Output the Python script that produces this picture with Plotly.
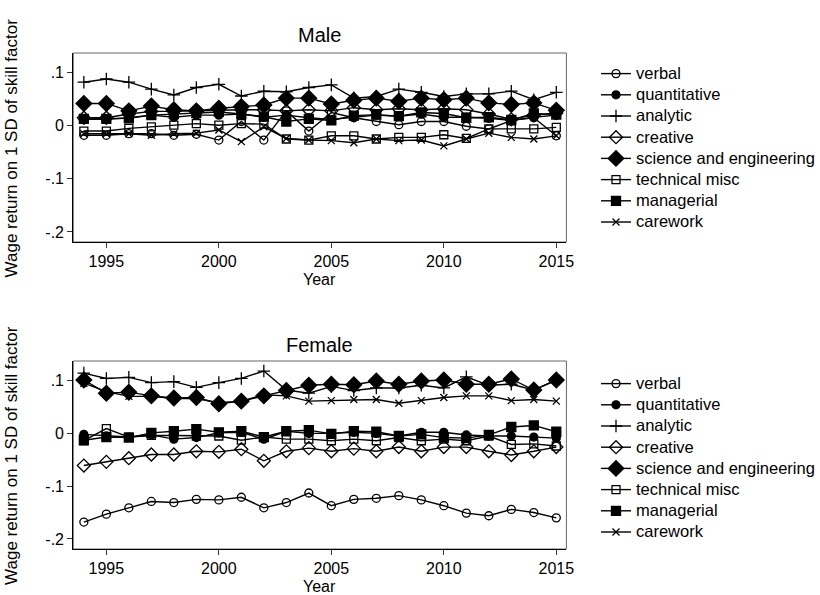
import plotly.graph_objects as go

years = list(range(1994, 2016))
series_names = ["verbal", "quantitative", "analytic", "creative",
                "science and engineering", "technical misc", "managerial", "carework"]

male_verbal = [-0.018,-0.018,-0.015,-0.015,-0.018,-0.016,-0.027,0.008,-0.027,0.028,-0.010,0.025,0.015,0.008,0.002,0.008,0.008,-0.001,-0.006,0.010,0.015,-0.019]
male_quantitative = [0.012,0.012,0.015,0.020,0.016,0.020,0.020,0.022,0.016,0.020,0.015,0.012,0.016,0.020,0.018,0.022,0.016,0.016,0.014,0.010,0.016,0.020]
male_analytic = [0.082,0.088,0.082,0.069,0.058,0.072,0.078,0.056,0.065,0.064,0.072,0.077,0.052,0.055,0.069,0.063,0.055,0.060,0.060,0.065,0.049,0.063]
male_creative = [0.015,0.015,0.022,0.027,0.027,0.028,0.030,0.030,0.030,0.028,0.030,0.028,0.034,0.030,0.032,0.030,0.032,0.030,0.022,0.012,0.020,0.024]
male_science = [0.042,0.042,0.028,0.037,0.030,0.028,0.033,0.036,0.039,0.052,0.052,0.041,0.048,0.052,0.046,0.052,0.049,0.052,0.043,0.040,0.043,0.029]
male_technical = [-0.010,-0.010,-0.005,-0.002,0.001,0.004,0.001,0.004,0.003,-0.025,-0.027,-0.019,-0.019,-0.025,-0.022,-0.022,-0.017,-0.024,-0.006,-0.006,-0.006,-0.003]
male_managerial = [0.013,0.013,0.014,0.020,0.022,0.024,0.026,0.022,0.017,0.008,0.013,0.010,0.019,0.021,0.018,0.025,0.023,0.015,0.016,0.011,0.023,0.021]
male_carework = [-0.015,-0.015,-0.015,-0.018,-0.015,-0.014,-0.008,-0.030,-0.002,-0.024,-0.027,-0.028,-0.032,-0.025,-0.028,-0.027,-0.038,-0.025,-0.014,-0.022,-0.025,-0.019]

female_verbal = [-0.168,-0.153,-0.141,-0.129,-0.131,-0.125,-0.126,-0.121,-0.141,-0.131,-0.113,-0.137,-0.125,-0.123,-0.118,-0.126,-0.137,-0.151,-0.156,-0.144,-0.150,-0.160]
female_quantitative = [-0.002,-0.005,-0.007,-0.003,-0.011,-0.008,0.001,0.002,-0.011,0.004,0.000,0.000,0.002,0.000,-0.005,0.002,0.002,-0.003,-0.005,-0.005,-0.007,-0.009]
female_analytic = [0.114,0.104,0.106,0.096,0.098,0.087,0.096,0.104,0.118,0.082,0.076,0.089,0.081,0.086,0.086,0.091,0.086,0.107,0.091,0.093,0.082,0.101]
female_creative = [-0.061,-0.054,-0.047,-0.040,-0.040,-0.034,-0.035,-0.030,-0.052,-0.034,-0.028,-0.034,-0.029,-0.034,-0.026,-0.034,-0.026,-0.026,-0.034,-0.041,-0.034,-0.026]
female_science = [0.101,0.076,0.078,0.071,0.067,0.068,0.056,0.061,0.071,0.081,0.091,0.093,0.092,0.099,0.093,0.099,0.101,0.093,0.093,0.103,0.082,0.101]
female_technical = [-0.014,0.009,-0.007,-0.004,-0.004,-0.005,-0.005,-0.013,-0.007,-0.011,-0.011,-0.014,-0.011,-0.014,-0.008,-0.014,-0.011,-0.014,-0.005,-0.021,-0.020,-0.024]
female_managerial = [-0.013,-0.007,-0.008,0.001,0.004,0.008,0.002,0.004,-0.007,0.004,0.006,-0.001,0.004,0.003,-0.005,-0.002,-0.008,-0.009,-0.003,0.012,0.015,0.003]
female_carework = [0.095,0.079,0.070,0.070,0.066,0.066,0.058,0.061,0.073,0.071,0.061,0.062,0.064,0.064,0.057,0.062,0.068,0.071,0.071,0.062,0.064,0.061]

x_ticks = [1995, 2000, 2005, 2010, 2015]
y_tickvals = [0.1, 0, -0.1, -0.2]
y_ticktext = [".1", "0", "-.1", "-.2"]

male = [male_verbal, male_quantitative, male_analytic, male_creative,
        male_science, male_technical, male_managerial, male_carework]
female = [female_verbal, female_quantitative, female_analytic, female_creative,
          female_science, female_technical, female_managerial, female_carework]

symbols = ["circle-open", "circle", "cross-thin", "diamond-open",
           "diamond", "square-open", "square", "x-thin"]
sizes = [8, 8, 9, 10, 12, 8, 9, 7]

FONT = "Liberation Sans, Arial, Helvetica, sans-serif"
fig = go.Figure()

for data, xa, ya, lg in [(male, "x", "y", "legend"), (female, "x2", "y2", "legend2")]:
    for name, vals, sym, sz in zip(series_names, data, symbols, sizes):
        fig.add_trace(go.Scatter(
            x=years, y=vals, name='<span style="font-size:16.5px">' + name + '</span>',
            mode="lines+markers",
            xaxis=xa, yaxis=ya, legend=lg,
            line=dict(color="black", width=1.4),
            marker=dict(symbol=sym, size=sz, color="black",
                        line=dict(color="black", width=1.3)),
        ))

xdom = [74/820, 572/820]
top_dom = [1 - 242/595, 1 - 53/595]
bot_dom = [1 - 549/595, 1 - 361/595]

axis_common = dict(showline=True, linecolor="black", linewidth=1.2,
                   ticks="outside", ticklen=5, tickcolor="#333", tickwidth=1,
                   showgrid=False, zeroline=False,
                   tickfont=dict(family=FONT, size=16, color="black"))

xr = [1993.53, 2015.45]
yr = [-0.219, 0.137]

xmid = (xdom[0] + xdom[1]) / 2
legend_common = dict(xanchor="left", yanchor="top", font=dict(family=FONT, size=14),
                     bgcolor="rgba(0,0,0,0)", tracegroupgap=0, itemwidth=30)

fig.update_layout(
    width=820, height=595,
    margin=dict(l=0, r=0, t=0, b=0),
    paper_bgcolor="white", plot_bgcolor="white",
    font=dict(family=FONT, color="black"),
    xaxis=dict(domain=xdom, anchor="y", range=xr, tickvals=x_ticks, **axis_common),
    yaxis=dict(domain=top_dom, anchor="x", range=yr, tickvals=y_tickvals,
               ticktext=y_ticktext, tickangle=0, **axis_common),
    xaxis2=dict(domain=xdom, anchor="y2", range=xr, tickvals=x_ticks, **axis_common),
    yaxis2=dict(domain=bot_dom, anchor="x2", range=yr, tickvals=y_tickvals,
                ticktext=y_ticktext, tickangle=0, **axis_common),
    legend=dict(x=602/820, y=1 - 58/595, **legend_common),
    legend2=dict(x=602/820, y=1 - 368/595, **legend_common),
    annotations=[
        dict(text="Male", x=xmid, y=1 - 35/595, xref="paper", yref="paper",
             showarrow=False, font=dict(family=FONT, size=20), xanchor="center", yanchor="middle"),
        dict(text="Female", x=xmid, y=1 - 345/595, xref="paper", yref="paper",
             showarrow=False, font=dict(family=FONT, size=20), xanchor="center", yanchor="middle"),
        dict(text="Year", x=xmid, y=1 - 279/595, xref="paper", yref="paper",
             showarrow=False, font=dict(family=FONT, size=16), xanchor="center", yanchor="middle"),
        dict(text="Year", x=xmid, y=1 - 586/595, xref="paper", yref="paper",
             showarrow=False, font=dict(family=FONT, size=16), xanchor="center", yanchor="middle"),
        dict(text="Wage return on 1 SD of skill factor", x=12/820,
             y=(top_dom[0] + top_dom[1]) / 2, xref="paper", yref="paper", textangle=-90,
             showarrow=False, font=dict(family=FONT, size=17), xanchor="center", yanchor="middle"),
        dict(text="Wage return on 1 SD of skill factor", x=12/820,
             y=(bot_dom[0] + bot_dom[1]) / 2, xref="paper", yref="paper", textangle=-90,
             showarrow=False, font=dict(family=FONT, size=17), xanchor="center", yanchor="middle"),
    ],
    shapes=[
        dict(type="rect", xref="x domain", yref="y domain", x0=0, x1=1, y0=0, y1=1,
             line=dict(color="#666", width=1), layer="below"),
        dict(type="rect", xref="x2 domain", yref="y2 domain", x0=0, x1=1, y0=0, y1=1,
             line=dict(color="#666", width=1), layer="below"),
    ],
)

fig.write_html("out.html")
